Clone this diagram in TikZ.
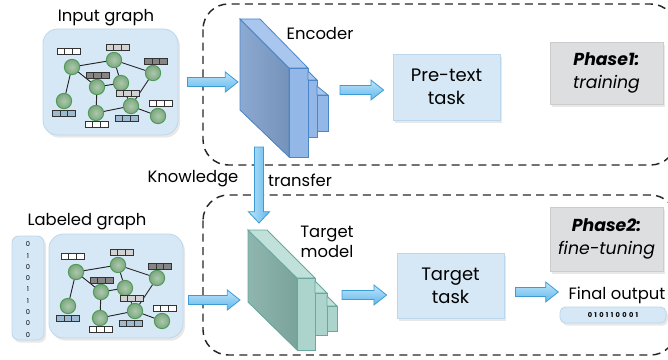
\documentclass[tikz,border=0pt]{standalone}
\usepackage{fontspec}
\setmainfont{Poppins}
\usetikzlibrary{calc,shadows}
\definecolor{boxblue}{HTML}{D6E8F6}
\definecolor{boxline}{HTML}{BCD6EC}
\definecolor{arrtop}{HTML}{BDE4FB}
\definecolor{arrbot}{HTML}{62B8EC}
\definecolor{arrline}{HTML}{3D9BD6}
\definecolor{phasegray}{HTML}{DCDEE0}
\definecolor{nodegreen}{HTML}{8DB88F}
\definecolor{nodeline}{HTML}{4E9A57}
\definecolor{barlight}{HTML}{D2D2D2}
\definecolor{bardark}{HTML}{858585}
\definecolor{barblue}{HTML}{9DBBD0}
\definecolor{encside}{HTML}{7592BA}
\definecolor{encsidel}{HTML}{8CA9D2}
\definecolor{encfront}{HTML}{93B7E7}
\definecolor{enctop}{HTML}{A9C6EE}
\definecolor{encline}{HTML}{4A86C8}
\definecolor{tgside}{HTML}{7AA39C}
\definecolor{tgsidel}{HTML}{8FB5AE}
\definecolor{tgfront}{HTML}{ADD4CC}
\definecolor{tgtop}{HTML}{C0E1D9}
\definecolor{tgline}{HTML}{68A89E}
\tikzset{
  phaseframe/.style={draw=black!85, line width=1.1pt, dash pattern=on 6pt off 4pt, rounded corners=19pt},
  softshadow/.style={drop shadow={shadow xshift=1.5pt, shadow yshift=-2pt, opacity=0.18}},
  graphbox/.style={draw=boxline, fill=boxblue, rounded corners=11pt, line width=0.6pt, softshadow},
  taskbox/.style={draw=boxline, fill=boxblue, line width=0.6pt, align=center, inner sep=0pt,
    font=\fontsize{13.5}{16}\selectfont, softshadow},
  phaseinfo/.style={draw=black!20, fill=phasegray, line width=0.6pt, align=center, inner sep=0pt,
    font=\fontsize{13}{16}\selectfont, softshadow},
  gnode/.style={circle, minimum size=11.5pt, inner sep=0pt, draw=nodeline, line width=0.7pt,
    inner color=nodegreen!75!white, outer color=nodegreen!90!black},
  gedge/.style={draw=black!85, line width=0.7pt},
  barrow/.style={draw=arrline, line width=0.6pt, top color=arrtop, bottom color=arrbot},
  lbl/.style={inner sep=0pt, font=\fontsize{12.3}{14}\selectfont},
  pics/fbar/.style={code={
    \draw[fill=#1, draw=black!80, line width=0.6pt] (-11.5,-3) rectangle (11.5,3);
    \draw[draw=black!80, line width=0.6pt] (-3.8,-3) -- (-3.8,3) (3.8,-3) -- (3.8,3);
  }}
}
% horizontal block arrow from #1 to tip #2
\newcommand\harr[2]{\path[barrow] let \p1=(#1), \p2=(#2) in
  (\x1,\y1+3.4pt) -- (\x2-9.5pt,\y1+3.4pt) -- (\x2-9.5pt,\y1+7.5pt) -- (\x2,\y1)
  -- (\x2-9.5pt,\y1-7.5pt) -- (\x2-9.5pt,\y1-3.4pt) -- (\x1,\y1-3.4pt) -- cycle;}
% vertical (downward) block arrow from #1 to tip #2
\newcommand\varr[2]{\path[barrow, left color=arrtop, right color=arrbot] let \p1=(#1), \p2=(#2) in
  (\x1-3.4pt,\y1) -- (\x1-3.4pt,\y2+8.5pt) -- (\x1-8pt,\y2+8.5pt) -- (\x1,\y2)
  -- (\x1+8pt,\y2+8.5pt) -- (\x1+3.4pt,\y2+8.5pt) -- (\x1+3.4pt,\y1) -- cycle;}
\newcommand\graphcontent{%
  \node[gnode] (n1) at (72,67) {};
  \node[gnode] (n2) at (114,60) {};
  \node[gnode] (n3) at (153,73) {};
  \node[gnode] (n4) at (97,87) {};
  \node[gnode] (n5) at (121,83) {};
  \node[gnode] (n6) at (64,101) {};
  \node[gnode] (n7) at (131,106) {};
  \node[gnode] (n8) at (96,113) {};
  \node[gnode] (n9) at (158,116) {};
  \path[gedge] (n1) -- (n2) (n1) -- (n4) (n1) -- (n6) (n2) -- (n5) (n2) -- (n3)
    (n4) -- (n5) (n4) -- (n8) (n3) -- (n7) (n5) -- (n7) (n8) -- (n7) (n7) -- (n9);
  \pic at (68.5,51.5) {fbar=white};
  \pic at (117.5,47.5) {fbar=barlight};
  \pic at (156,61.5) {fbar=bardark};
  \pic at (97.5,75.5) {fbar=bardark};
  \pic at (127.5,93.5) {fbar=barlight};
  \pic at (160.5,103.5) {fbar=white};
  \pic at (64,113.5) {fbar=barblue};
  \pic at (126.5,118.5) {fbar=barblue};
  \pic at (96.5,124.5) {fbar=white};
}
\begin{document}
\begin{tikzpicture}[x=0.75pt,y=-0.75pt]
\useasboundingbox (0,0) rectangle (668,360);

% phase frames
\draw[phaseframe] (203,4) rectangle (676,165);
\draw[phaseframe] (203,195) rectangle (676,355);

% ---------- Phase 1 ----------
\node[lbl] (iglabel) at (106,18) {Input graph};
\node[graphbox, minimum width=101.25pt, minimum height=79.5pt] (ig) at (110.5,82) {};
\begin{scope}[name prefix=t-]
  \graphcontent
\end{scope}

% encoder
\coordinate (encin) at (238,89);
\filldraw[draw=encline, line width=0.6pt, left color=encsidel, right color=encside]
  (240,19) -- (289,68) -- (289,157) -- (240,110) -- cycle;
\filldraw[draw=encline, line width=0.6pt, fill=enctop]
  (240,19) -- (260,19) -- (308,68) -- (289,68) -- cycle;
\filldraw[draw=encline, line width=0.6pt, fill=encfront] (289,68) rectangle (308,157);
\filldraw[draw=encline, line width=0.6pt, fill=enctop] (308,71) -- (317,80) -- (308,80) -- cycle;
\filldraw[draw=encline, line width=0.6pt, fill=encfront] (308,80) rectangle (317,137);
\filldraw[draw=encline, line width=0.6pt, fill=enctop] (317,86) -- (328,95) -- (317,95) -- cycle;
\filldraw[draw=encline, line width=0.6pt, fill=encfront] (317,95) rectangle (328,131);
\coordinate (encout) at (340,90);
\coordinate (encbot) at (259,147);
\node[lbl] (enclabel) at (320,34) {Encoder};

\node[taskbox, minimum width=80.25pt, minimum height=49.5pt] (pre) at (446.5,87)
  {Pre-text\\[1pt]task};
\node[phaseinfo, minimum width=84.75pt, minimum height=46.5pt] (ph1) at (606.5,73)
  {\textbf{\textit{Phase1:}}\\[1pt]\textit{training}};

\harr{$(ig.east)+(9,0)$}{encin}
\harr{encout}{$(pre.west)+(-9,0)$}

% ---------- knowledge transfer ----------
\node[lbl] (know) at (193,179) {Knowledge};
\node[lbl] (trans) at (300,180) {transfer};

% ---------- Phase 2 ----------
\node[lbl] (lglabel) at (87,222) {Labeled graph};
\node[graphbox, rounded corners=5pt, minimum width=24pt, minimum height=78pt] (col) at (28,288) {};
\foreach \d [count=\i] in {0,1,0,0,1,1,0,0,0}
  \node[inner sep=0pt, font=\fontsize{5}{5}\selectfont] (d\i) at (28,233+11.3*\i) {\d};
\node[graphbox, minimum width=100.5pt, minimum height=78pt] (lg) at (116,286) {};
\begin{scope}[shift={(4,205)}, name prefix=b-]
  \graphcontent
\end{scope}

% target model
\coordinate (tgin) at (240,300);
\coordinate (tgtop) at (259,223);
\filldraw[draw=tgline, line width=0.6pt, left color=tgsidel, right color=tgside]
  (248,230) -- (297,278) -- (297,350) -- (248,302) -- cycle;
\filldraw[draw=tgline, line width=0.6pt, fill=tgtop]
  (248,230) -- (267,230) -- (315,278) -- (297,278) -- cycle;
\filldraw[draw=tgline, line width=0.6pt, fill=tgfront] (297,278) rectangle (315,350);
\filldraw[draw=tgline, line width=0.6pt, fill=tgtop] (315,281) -- (327,293) -- (315,293) -- cycle;
\filldraw[draw=tgline, line width=0.6pt, fill=tgfront] (315,293) rectangle (327,335);
\filldraw[draw=tgline, line width=0.6pt, fill=tgtop] (327,296) -- (337,306) -- (327,306) -- cycle;
\filldraw[draw=tgline, line width=0.6pt, fill=tgfront] (327,306) rectangle (337,331);
\coordinate (tgout) at (342,295);
\node[lbl, align=center] (tglabel) at (327,242) {Target\\[1pt]model};

\node[taskbox, minimum width=80.25pt, minimum height=48.75pt] (tt) at (450.5,285.5)
  {Target\\[1pt]task};
\node[phaseinfo, minimum width=84.75pt, minimum height=48pt] (ph2) at (606.5,239)
  {\textbf{\textit{Phase2:}}\\[1pt]\textit{fine-tuning}};
\node[lbl] (final) at (617,295) {Final output};
\node[graphbox, rounded corners=4pt, minimum width=79.5pt, minimum height=12pt,
  font=\fontsize{5}{5}\selectfont\bfseries\addfontfeature{LetterSpace=35}] (out) at (613,315) {010110001};

\harr{$(lg.east)+(5,14)$}{tgin}
\harr{tgout}{$(tt.west)+(-10,9.5)$}
\harr{$(tt.east)+(11,6.5)$}{$(final.west)+(-10,-3)$}
\varr{encbot}{tgtop}
\end{tikzpicture}
\end{document}
